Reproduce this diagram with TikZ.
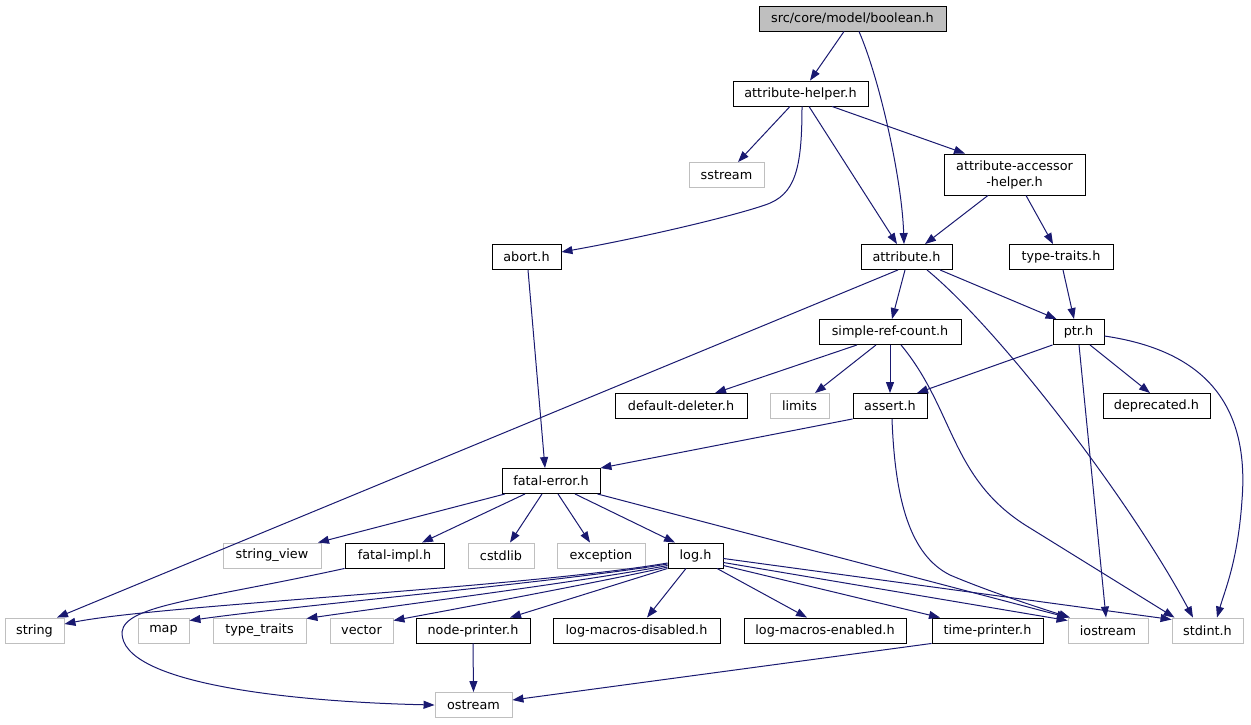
\documentclass[tikz,border=0pt]{standalone}
\usepackage{fontspec}
\setmainfont{DejaVu Sans}
\usetikzlibrary{arrows.meta}
\definecolor{extgray}{HTML}{BFBFBF}
\definecolor{edgeblue}{HTML}{191970}
\begin{document}
\begin{tikzpicture}[x=1pt,y=-1pt,
  box/.style={draw=black, line width=0.9pt, minimum height=25pt, inner sep=0pt, text=black,
    font=\fontsize{12.8}{16}\selectfont, align=center},
  ext/.style={box, draw=extgray},
  dep/.style={draw=edgeblue, line width=1pt, -{Triangle[length=11pt,width=8pt]}, edgeblue}]
\useasboundingbox (0,0) rectangle (1251,724);
% nodes
\node[box, fill=extgray, minimum width=187pt] (bool) at (852.5,18.5) {src/core/model/boolean.h};
\node[box, minimum width=135pt] (ah) at (800.5,93.5) {attribute-helper.h};
\node[ext, minimum width=75pt] (sstream) at (726.5,175) {sstream};
\node[box, minimum width=141pt, minimum height=41pt] (acc) at (1014.5,174.5) {attribute-accessor\\-helper.h};
\node[box, minimum width=69pt] (abort) at (526.5,257) {abort.h};
\node[box, minimum width=91pt] (attr) at (906.5,257) {attribute.h};
\node[box, minimum width=104pt] (tt) at (1061,257) {type-traits.h};
\node[box, minimum width=142pt] (src) at (890,332) {simple-ref-count.h};
\node[box, minimum width=51pt] (ptr) at (1078.5,332) {ptr.h};
\node[box, minimum width=132pt] (dd) at (681,406) {default-deleter.h};
\node[ext, minimum width=59pt] (limits) at (799.5,406) {limits};
\node[box, minimum width=74pt] (assert) at (890,406) {assert.h};
\node[box, minimum width=107pt] (depr) at (1156.5,406) {deprecated.h};
\node[box, minimum width=98pt] (fe) at (551,481) {fatal-error.h};
\node[ext, minimum width=98pt] (sv) at (272,555.5) {string\_view};
\node[box, minimum width=99pt] (fi) at (394.5,555.5) {fatal-impl.h};
\node[ext, minimum width=66pt] (cstdlib) at (501,555.5) {cstdlib};
\node[ext, minimum width=88pt] (exc) at (601,555.5) {exception};
\node[box, minimum width=55pt] (log) at (695.5,555.5) {log.h};
\node[ext, minimum width=59pt] (string) at (34.5,630.5) {string};
\node[ext, minimum width=51pt] (map) at (163.5,630.5) {map};
\node[ext, minimum width=93pt] (typetr) at (259.5,630.5) {type\_traits};
\node[ext, minimum width=63pt] (vector) at (361.5,630.5) {vector};
\node[box, minimum width=114pt] (np) at (473,630.5) {node-printer.h};
\node[box, minimum width=167pt] (lmd) at (636.5,630.5) {log-macros-disabled.h};
\node[box, minimum width=162pt] (lme) at (825,630.5) {log-macros-enabled.h};
\node[box, minimum width=111pt] (tp) at (987.5,630.5) {time-printer.h};
\node[ext, minimum width=80pt] (ios) at (1108,630.5) {iostream};
\node[ext, minimum width=71pt] (stdint) at (1207.5,630.5) {stdint.h};
\node[ext, minimum width=77pt] (ostream) at (473.5,705) {ostream};
% edges
\draw[dep] ([xshift=-8.5pt]bool.south) -- ([xshift=9.5pt]ah.north);
\draw[dep] ([xshift=6.5pt]bool.south) .. controls (880,80) and (902,180) .. ([xshift=-2.5pt]attr.north);
\draw[dep] ([xshift=-10.5pt]ah.south) -- ([xshift=11.5pt]sstream.north);
\draw[dep] ([xshift=1.5pt]ah.south) .. controls (802,170) and (795,195) .. (765,205) .. controls (730,217) and (640,238) .. ([yshift=5pt]abort.east);
\draw[dep] ([xshift=8.5pt]ah.south) -- ([xshift=-9.5pt]attr.north);
\draw[dep] ([xshift=31.5pt]ah.south) -- ([xshift=-49.5pt]acc.north);
\draw[dep] ([xshift=-26.5pt]acc.south) -- ([xshift=18.5pt]attr.north);
\draw[dep] ([xshift=11.5pt]acc.south) -- ([xshift=-8pt]tt.north);
\draw[dep] ([xshift=1.5pt]abort.south) -- ([xshift=-6pt]fe.north);
\draw[dep] ([xshift=-8.5pt]attr.south) -- ([xshift=22.5pt]string.north);
\draw[dep] ([xshift=-1.5pt]attr.south) -- ([xshift=2pt]src.north);
\draw[dep] ([xshift=33.5pt]attr.south) -- ([xshift=-22pt]ptr.north);
\draw[dep] ([xshift=20.5pt]attr.south) .. controls (1000,330) and (1130,500) .. ([xshift=-14.5pt]stdint.north);
\draw[dep] ([xshift=2pt]tt.south) -- ([xshift=-4.5pt]ptr.north);
\draw[dep] ([xshift=-33pt]src.south) -- ([xshift=34pt]dd.north);
\draw[dep] ([xshift=-14pt]src.south) -- ([xshift=15.5pt]limits.north);
\draw[dep] (src.south) -- (assert.north);
\draw[dep] ([xshift=11pt]src.south) .. controls (955,410) and (950,480) .. (1030,528) -- ([xshift=-33pt]stdint.north);
\draw[dep] (ptr.south west) -- ([xshift=27pt]assert.north);
\draw[dep] ([xshift=11.5pt]ptr.south) -- ([xshift=-6.5pt]depr.north);
\draw[dep] ([xshift=0.5pt]ptr.south) -- ([xshift=-2pt]ios.north);
\draw[dep] ([yshift=-4pt]ptr.east) .. controls (1200,350) and (1250,400) .. (1242,500) .. controls (1238,560) and (1225,590) .. ([xshift=9.5pt]stdint.north);
\draw[dep] (assert.south west) -- (fe.north east);
\draw[dep] ([xshift=2pt]assert.south) .. controls (895,500) and (910,555) .. (950,575) .. controls (990,592) and (1040,608) .. ([xshift=-38pt]ios.north);
\draw[dep] ([xshift=-46pt]fe.south) -- ([xshift=46pt]sv.north);
\draw[dep] ([xshift=-26pt]fe.south) -- ([xshift=27.5pt]fi.north);
\draw[dep] ([xshift=-9pt]fe.south) -- ([xshift=9pt]cstdlib.north);
\draw[dep] ([xshift=7pt]fe.south) -- ([xshift=-11pt]exc.north);
\draw[dep] ([xshift=24pt]fe.south) -- ([xshift=-20.5pt]log.north);
\draw[dep] ([xshift=-3pt]fe.south east) -- ([xshift=-40pt]ios.north);
\draw[dep] (fi.south west) .. controls (200,600) and (125,605) .. (122,632) .. controls (120,685) and (300,702) .. (ostream.west);
\draw[dep] ([yshift=-7.5pt]log.west) .. controls (520,588) and (160,605) .. ([yshift=6.5pt]string.east);
\draw[dep] ([yshift=-8.5pt]log.west) .. controls (560,582) and (300,605) .. ([yshift=10pt]map.east);
\draw[dep] ([yshift=-10pt]log.west) .. controls (580,582) and (400,605) .. ([yshift=12pt]typetr.east);
\draw[dep] ([yshift=-11.5pt]log.west) .. controls (600,582) and (450,610) .. ([yshift=10pt]vector.east);
\draw[dep] (log.south west) -- ([xshift=37pt]np.north);
\draw[dep] ([xshift=-9.5pt]log.south) -- ([xshift=10.5pt]lmd.north);
\draw[dep] ([xshift=21.5pt]log.south) -- ([xshift=-18pt]lme.north);
\draw[dep] ([yshift=-10pt]log.east) -- ([xshift=-47.5pt]tp.north);
\draw[dep] ([yshift=-7pt]log.east) -- ([yshift=10pt]ios.west);
\draw[dep] ([yshift=-3pt]log.east) -- ([yshift=11pt]stdint.west);
\draw[dep] (np.south) -- (ostream.north);
\draw[dep] (tp.south west) -- ([yshift=5pt]ostream.east);
\end{tikzpicture}
\end{document}
